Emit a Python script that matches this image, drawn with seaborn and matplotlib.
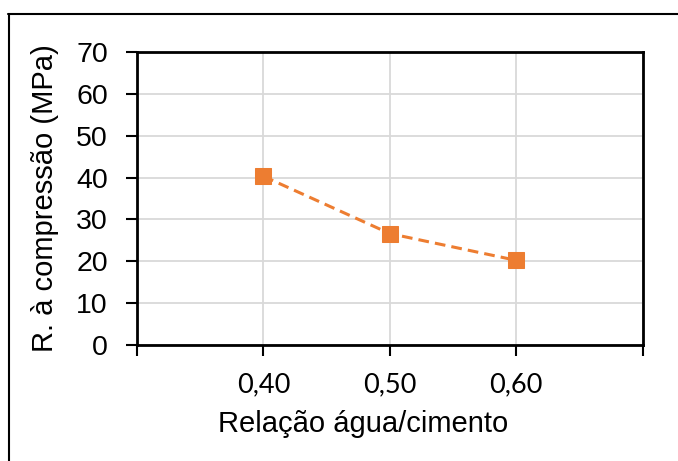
import pandas as pd
import seaborn as sns
import matplotlib.pyplot as plt
from matplotlib.lines import Line2D

# data
relacao_ac = [0.40, 0.50, 0.60]
resistencia = [40.3, 26.6, 20.2]
x_ticks = [0.30, 0.40, 0.50, 0.60, 0.70]
x_labels = ["", "0,40", "0,50", "0,60", ""]
y_ticks = [0, 10, 20, 30, 40, 50, 60, 70]

oData = pd.DataFrame({"ac": relacao_ac, "fc": resistencia})

sns.set_style("white")
plt.rcParams['font.family'] = ['Liberation Sans', 'DejaVu Sans']
plt.rcParams['text.color'] = 'black'
plt.rcParams['axes.labelcolor'] = 'black'
plt.rcParams['xtick.color'] = 'black'
plt.rcParams['ytick.color'] = 'black'

fig = plt.figure(figsize=(6.78, 4.61), dpi=100)
ax = fig.add_axes([0.202, 0.252, 0.746, 0.635])

sns.lineplot(data=oData, x="ac", y="fc", ax=ax, color="#ED7D31",
             marker="s", markersize=12, markeredgecolor="#ED7D31",
             linewidth=2.2, linestyle=(0, (3.5, 2)))

ax.set_xlim(0.30, 0.70)
ax.set_ylim(0, 70)
ax.set_xticks(x_ticks)
ax.set_xticklabels(x_labels, fontsize=19.5, family=['Lato', 'DejaVu Sans'])
ax.set_yticks(y_ticks)
ax.tick_params(axis="y", labelsize=20.5, direction="out", length=8,
               width=1.5, color="black", pad=13)
ax.tick_params(axis="x", direction="out", length=8, width=1.5,
               color="black", pad=12)
ax.tick_params(left=True, bottom=True)

ax.grid(True, color="#D9D9D9", linewidth=1.3)
ax.set_axisbelow(True)
for s in ax.spines.values():
    s.set_color("black")
    s.set_linewidth(2)

ax.set_xlabel("Relação água/cimento", fontsize=21, labelpad=9, x=0.447)
ax.set_ylabel("R. à compressão (MPa)", fontsize=21, labelpad=12)

# outer frame (top and left only)
fig.add_artist(Line2D([0.012, 1.0], [0.970, 0.970], color="black",
                      linewidth=1.5, transform=fig.transFigure))
fig.add_artist(Line2D([0.013, 0.013], [0.0, 0.970], color="black",
                      linewidth=1.5, transform=fig.transFigure))

fig.savefig("out.png", dpi=100)
